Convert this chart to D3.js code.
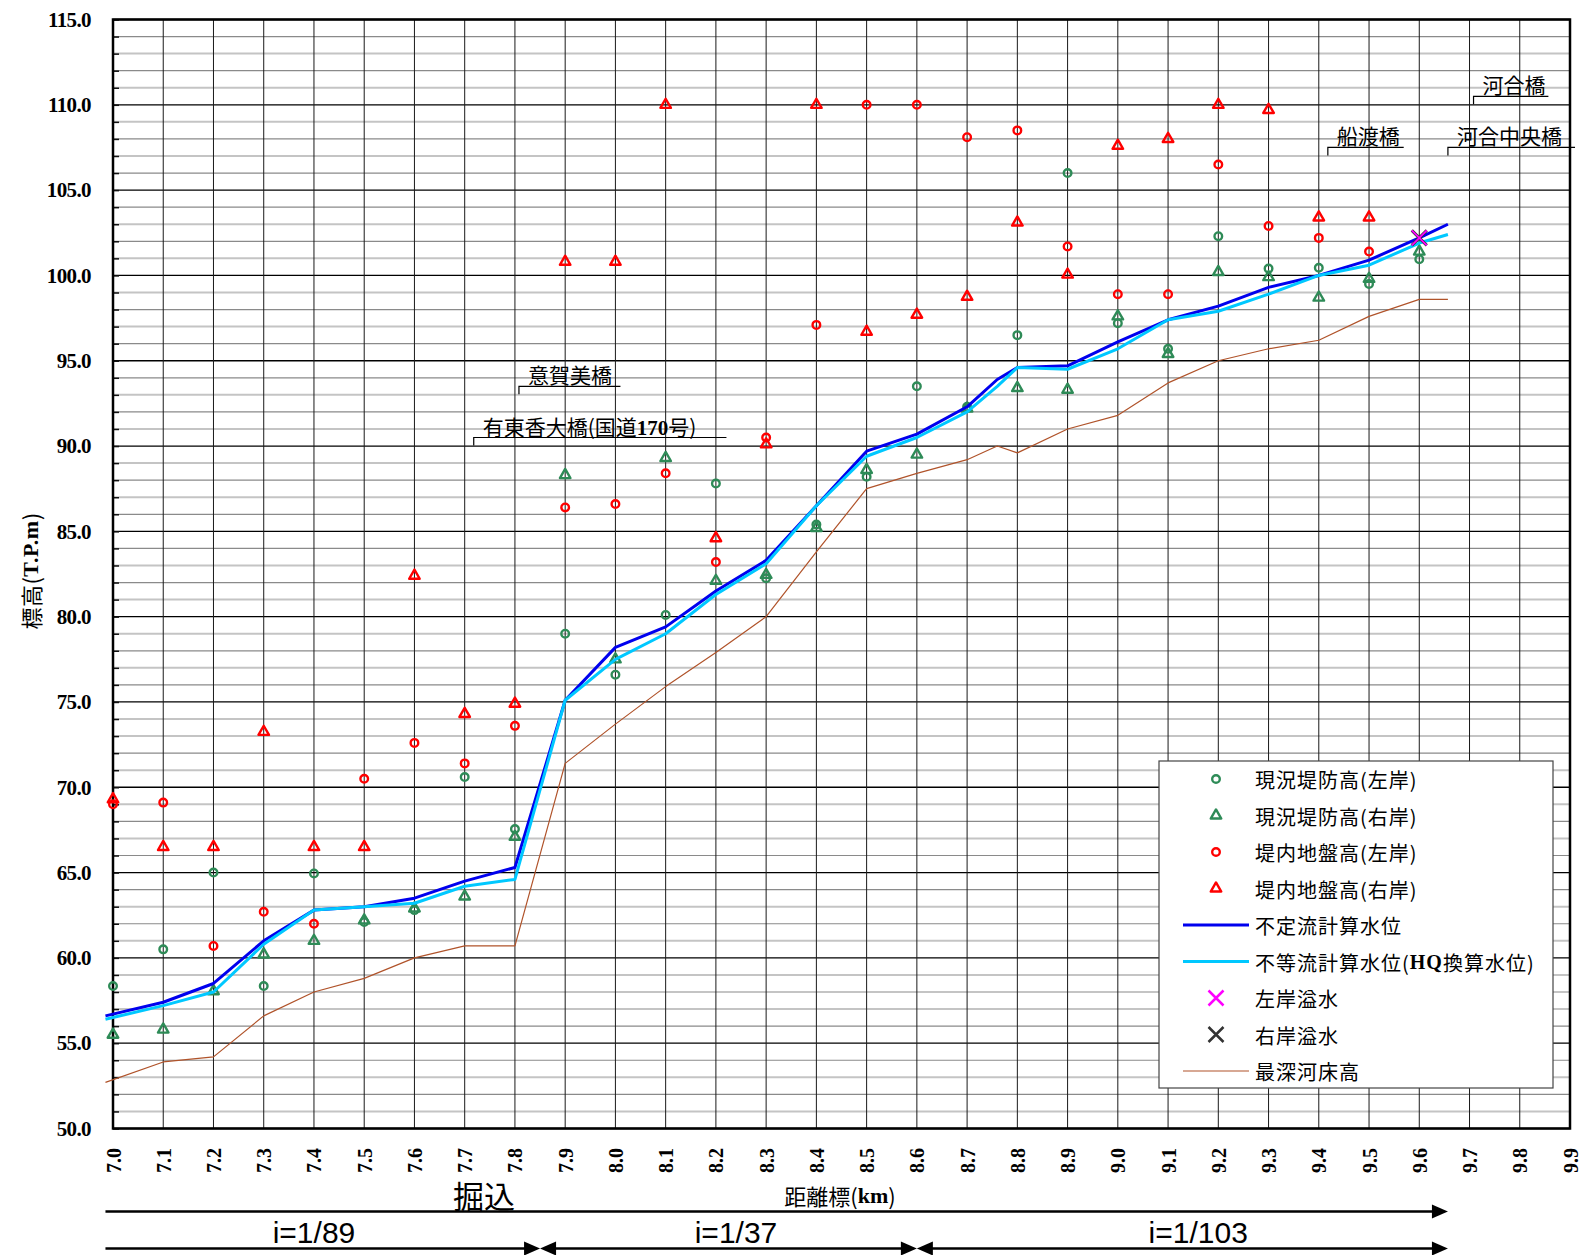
<!DOCTYPE html>
<html lang="ja">
<head>
<meta charset="UTF-8">
<title>水位縦断図</title>
<style>
  body { margin: 0; background: #fff; }
  svg { display: block; }
</style>
</head>
<body>
<div id="chart"></div>
<script src="https://cdn.jsdelivr.net/npm/d3@7/dist/d3.min.js"></script>
<script>
// ---- data ----
var lineKm = [6.985, 7.1, 7.2, 7.3, 7.4, 7.5, 7.6, 7.7, 7.8, 7.9, 8.0, 8.1, 8.2, 8.3, 8.4, 8.5, 8.6, 8.7, 8.76, 8.8, 8.9, 9.0, 9.1, 9.2, 9.3, 9.4, 9.5, 9.6, 9.657];
var unsteadyWL   = [56.6, 57.4, 58.5, 61.0, 62.8, 63.0, 63.5, 64.5, 65.3, 75.1, 78.2, 79.4, 81.5, 83.3, 86.5, 89.7, 90.7, 92.3, 93.9, 94.6, 94.7, 96.1, 97.4, 98.2, 99.3, 100.0, 100.9, 102.2, 103.0];
var nonUniformWL = [56.4, 57.2, 58.0, 60.8, 62.8, 63.0, 63.2, 64.2, 64.6, 75.1, 77.5, 79.0, 81.3, 83.1, 86.5, 89.4, 90.5, 92.0, 93.5, 94.6, 94.5, 95.7, 97.4, 97.9, 98.9, 100.0, 100.6, 101.9, 102.4];
var deepestBed   = [52.7, 53.9, 54.2, 56.6, 58.0, 58.8, 60.0, 60.7, 60.7, 71.4, 73.7, 75.9, 77.9, 80.0, 83.8, 87.5, 88.4, 89.2, 90.0, 89.6, 91.0, 91.8, 93.7, 95.0, 95.7, 96.2, 97.6, 98.6, 98.6];

var markKm = [7.0, 7.1, 7.2, 7.3, 7.4, 7.5, 7.6, 7.7, 7.8, 7.9, 8.0, 8.1, 8.2, 8.3, 8.4, 8.5, 8.6, 8.7, 8.8, 8.9, 9.0, 9.1, 9.2, 9.3, 9.4, 9.5, 9.6];
var leftLevee   = [58.35, 60.5, 65.0, 58.35, 64.95, 62.1, 62.8, 70.6, 67.55, 79.0, 76.6, 80.1, 87.8, 82.25, 85.4, 88.2, 93.5, 92.3, 96.5, 106.0, 97.2, 95.7, 102.3, 100.4, 100.45, 99.5, 100.95];
var rightLevee  = [55.5, 55.8, 58.05, 60.2, 61.0, 62.2, 62.9, 63.6, 67.1, 88.3, 77.5, 89.3, 82.1, 82.45, 85.2, 88.6, 89.5, 92.2, 93.4, 93.3, 97.6, 95.4, 100.2, 99.9, 98.7, 99.8, 101.4];
var leftGround  = [69.0, 69.1, 60.7, 62.7, 62.0, 70.5, 72.6, 71.4, 73.6, 86.4, 86.6, 88.4, 83.2, 90.5, 97.1, 110.0, 110.0, 108.1, 108.5, 101.7, 98.9, 98.9, 106.5, 102.9, 102.2, 101.4, null];
var rightGround = [69.3, 66.5, 66.5, 73.25, 66.5, 66.5, 82.4, 74.3, 74.9, 100.8, 100.8, 110.0, 84.6, 90.1, 110.0, 96.7, 97.7, 98.75, 103.1, 100.05, 107.6, 108.0, 110.0, 109.7, 103.4, 103.4, null];

var overflowKm = [9.6];
var leftOverflow = [102.2];
var rightOverflow = [102.2];

var xTickLabels = ["7.0", "7.1", "7.2", "7.3", "7.4", "7.5", "7.6", "7.7", "7.8", "7.9", "8.0", "8.1", "8.2", "8.3", "8.4", "8.5", "8.6", "8.7", "8.8", "8.9", "9.0", "9.1", "9.2", "9.3", "9.4", "9.5", "9.6", "9.7", "9.8", "9.9"];
var yTickLabels = ["50.0", "55.0", "60.0", "65.0", "70.0", "75.0", "80.0", "85.0", "90.0", "95.0", "100.0", "105.0", "110.0", "115.0"];

var bridgeName  = ["意賀美橋", "有東香大橋(国道170号)", "船渡橋", "河合橋", "河合中央橋"];
var bridgeKm    = [7.808, 7.718, 9.418, 9.708, 9.657];
var bridgeEndKm = [8.01, 8.221, 9.569, 9.857, 9.91];
var bridgeLevel = [93.5, 90.5, 107.5, 110.5, 107.5];

var gradFrom  = [6.985, 7.85, 8.6];
var gradTo    = [7.85, 8.6, 9.657];
var gradLabel = ["i=1/89", "i=1/37", "i=1/103"];
var gradLabelKm = [7.4, 8.24, 9.16];

var legendNames = ["現況堤防高(左岸)", "現況堤防高(右岸)", "堤内地盤高(左岸)", "堤内地盤高(右岸)",
                   "不定流計算水位", "不等流計算水位(HQ換算水位)", "左岸溢水", "右岸溢水", "最深河床高"];

// ---- layout ----
var W = 1581, H = 1255;
var pl = 113, pr = 1570, pt = 19.5, pb = 1128.5;
var SERIF = "'Liberation Serif', 'Times New Roman', serif";
var CJK = "'Noto Sans CJK JP', 'Noto Sans CJK SC', sans-serif";

var GREEN = "#2e8b57", RED = "#ff0000", BLUE = "#0000ee", CYAN = "#00c8ff", BROWN = "#b0532a";

var svg = d3.select("#chart").append("svg").attr("width", W).attr("height", H);

var x = d3.scaleLinear().domain([7.0, 9.9]).range([pl, pr]);
var y = d3.scaleLinear().domain([50, 115]).range([pb, pt]);

function mixedText(sel, str) {
  str.split(/([A-Za-z0-9.]+)/).forEach(function(part) {
    if (!part) return;
    var latin = /^[A-Za-z0-9.]+$/.test(part);
    sel.append("tspan").text(part)
      .attr("font-family", latin ? SERIF : CJK)
      .attr("font-weight", latin ? "bold" : "normal");
  });
}

// grid
var grid = svg.append("g");
y.ticks(65).forEach(function(v) {
  var major = v % 5 === 0;
  grid.append("line")
    .attr("x1", pl).attr("x2", pr)
    .attr("y1", y(v)).attr("y2", y(v))
    .attr("stroke", major ? "#000" : (v % 2 === 1 ? "#c4c4c4" : "#8a8a8a"))
    .attr("stroke-width", major ? 1.3 : (v % 2 === 1 ? 2 : 1.2));
});
xTickLabels.forEach(function(t) {
  grid.append("line")
    .attr("x1", x(+t)).attr("x2", x(+t))
    .attr("y1", pt).attr("y2", pb)
    .attr("stroke", "#1a1a1a").attr("stroke-width", 1);
});

// inner ticks on the left axis
svg.append("g")
  .attr("transform", "translate(" + pl + ",0)")
  .call(d3.axisLeft(y).ticks(65).tickSize(-6).tickFormat(""))
  .call(function(g) { g.select(".domain").remove(); })
  .selectAll("line").attr("stroke", "#111").attr("stroke-width", 1.5);

// y axis labels
svg.append("g")
  .attr("transform", "translate(" + pl + ",0)")
  .call(d3.axisLeft(y).tickValues(yTickLabels.map(Number)).tickFormat(function(d, i) { return yTickLabels[i]; })
    .tickSize(0).tickPadding(22))
  .call(function(g) { g.select(".domain").remove(); })
  .selectAll("text")
  .attr("font-family", SERIF).attr("font-weight", "bold").attr("font-size", 21)
  .attr("letter-spacing", -0.6).attr("fill", "#000");

// x axis labels, rotated
svg.append("g")
  .attr("transform", "translate(0," + pb + ")")
  .call(d3.axisBottom(x).tickValues(xTickLabels.map(Number)).tickFormat(function(d, i) { return xTickLabels[i]; })
    .tickSize(0))
  .call(function(g) { g.select(".domain").remove(); })
  .selectAll("text")
  .attr("x", 0).attr("y", 0).attr("dy", "0.35em")
  .attr("transform", "translate(0,32) rotate(-90)")
  .style("text-anchor", "middle")
  .attr("font-family", SERIF).attr("font-weight", "bold").attr("font-size", 20).attr("fill", "#000");

// frame
svg.append("rect")
  .attr("x", pl).attr("y", pt).attr("width", pr - pl).attr("height", pb - pt)
  .attr("fill", "none").attr("stroke", "#000").attr("stroke-width", 2.5);

// axis titles
var yt = svg.append("text")
  .attr("transform", "translate(30,571) rotate(-90)")
  .attr("text-anchor", "middle").attr("dominant-baseline", "central")
  .attr("font-size", 22).attr("letter-spacing", 0.5);
mixedText(yt, "標高(T.P.m)");

var xt = svg.append("text")
  .attr("x", 840).attr("y", 1195)
  .attr("text-anchor", "middle").attr("dominant-baseline", "central")
  .attr("font-size", 22);
mixedText(xt, "距離標(km)");

svg.append("text")
  .attr("x", 484).attr("y", 1194)
  .attr("text-anchor", "middle").attr("dominant-baseline", "central")
  .attr("font-family", CJK).attr("font-size", 31)
  .text("掘込");

// marker helpers
function circleMark(g, cx, cy, color) {
  g.append("circle").attr("cx", cx).attr("cy", cy).attr("r", 3.8)
    .attr("fill", "none").attr("stroke", color).attr("stroke-width", 2.4);
}
var triPath = d3.symbol(d3.symbolTriangle).size(48)();
function triMark(g, cx, cy, color) {
  g.append("path").attr("d", triPath)
    .attr("transform", "translate(" + cx + "," + cy + ")")
    .attr("fill", "none").attr("stroke", color).attr("stroke-width", 2.4)
    .attr("stroke-linejoin", "round");
}
function xMark(g, cx, cy, color, w) {
  g.append("path").attr("d", "M-7.5,-7.5L7.5,7.5M-7.5,7.5L7.5,-7.5")
    .attr("transform", "translate(" + cx + "," + cy + ")")
    .attr("fill", "none").attr("stroke", color).attr("stroke-width", w || 2.5);
}

// markers
var marks = svg.append("g");
markKm.forEach(function(k, i) {
  if (leftLevee[i] != null) circleMark(marks, x(k), y(leftLevee[i]), GREEN);
  if (rightLevee[i] != null) triMark(marks, x(k), y(rightLevee[i]), GREEN);
  if (leftGround[i] != null) circleMark(marks, x(k), y(leftGround[i]), RED);
  if (rightGround[i] != null) triMark(marks, x(k), y(rightGround[i]), RED);
});

// lines
function drawLine(vals, color, width) {
  var line = d3.line()
    .defined(function(d) { return d != null; })
    .x(function(d, i) { return x(lineKm[i]); })
    .y(function(d) { return y(d); });
  svg.append("path").datum(vals)
    .attr("d", line)
    .attr("fill", "none").attr("stroke", color).attr("stroke-width", width)
    .attr("stroke-linejoin", "round");
}
drawLine(unsteadyWL, BLUE, 3);
drawLine(nonUniformWL, CYAN, 3);
drawLine(deepestBed, BROWN, 1.2);

// overflow marks
overflowKm.forEach(function(k, i) {
  xMark(svg, x(k), y(rightOverflow[i]), "#333333", 3);
  xMark(svg, x(k), y(leftOverflow[i]), "#ff00ff", 1.8);
});

// bridge labels
bridgeName.forEach(function(name, i) {
  var bx = x(bridgeKm[i]), by = y(bridgeLevel[i]);
  var t = svg.append("text").attr("x", bx + 9).attr("y", by - 3).attr("font-size", 21).attr("fill", "#000");
  mixedText(t, name);
  svg.append("path")
    .attr("d", "M" + bx + "," + (by + 8) + "V" + by + "H" + x(bridgeEndKm[i]))
    .attr("fill", "none").attr("stroke", "#000").attr("stroke-width", 1.2);
});

// gradient arrows
function arrowHead(tipX, yy, dir) {
  svg.append("path")
    .attr("d", "M" + tipX + "," + yy + "L" + (tipX - dir * 16) + "," + (yy - 7) + "L" + (tipX - dir * 16) + "," + (yy + 7) + "Z")
    .attr("fill", "#000");
}
var ya = 1211.5, yb = 1248.5;
svg.append("line").attr("x1", x(gradFrom[0])).attr("x2", x(gradTo[gradTo.length - 1]) - 10)
  .attr("y1", ya).attr("y2", ya).attr("stroke", "#000").attr("stroke-width", 2.5);
arrowHead(x(gradTo[gradTo.length - 1]), ya, 1);

gradFrom.forEach(function(f, i) {
  var x1 = x(f), x2 = x(gradTo[i]);
  svg.append("line").attr("x1", i === 0 ? x1 : x1 + 10).attr("x2", x2 - 10)
    .attr("y1", yb).attr("y2", yb).attr("stroke", "#000").attr("stroke-width", 2.5);
  arrowHead(x2, yb, 1);
  if (i > 0) arrowHead(x1, yb, -1);
  svg.append("text")
    .attr("x", x(gradLabelKm[i])).attr("y", yb - 6)
    .attr("text-anchor", "middle")
    .attr("font-family", "'Liberation Sans', Arial, sans-serif").attr("font-size", 30)
    .text(gradLabel[i]);
});

// legend
var lg = svg.append("g");
lg.append("rect").attr("x", 1159).attr("y", 761).attr("width", 394).attr("height", 327)
  .attr("fill", "#fff").attr("stroke", "#444").attr("stroke-width", 1.2);
legendNames.forEach(function(name, i) {
  var ly = 779 + i * 36.5;
  if (i === 0) circleMark(lg, 1216, ly, GREEN);
  if (i === 1) triMark(lg, 1216, ly, GREEN);
  if (i === 2) circleMark(lg, 1216, ly, RED);
  if (i === 3) triMark(lg, 1216, ly, RED);
  if (i === 4 || i === 5 || i === 8) {
    lg.append("line").attr("x1", 1183).attr("x2", 1249).attr("y1", ly).attr("y2", ly)
      .attr("stroke", i === 4 ? BLUE : (i === 5 ? CYAN : BROWN))
      .attr("stroke-width", i === 8 ? 1.2 : 3);
  }
  if (i === 6) xMark(lg, 1216, ly, "#ff00ff");
  if (i === 7) xMark(lg, 1216, ly, "#333333");
  var t = lg.append("text").attr("x", 1255).attr("y", ly)
    .attr("dominant-baseline", "central").attr("font-size", 20).attr("letter-spacing", 1).attr("fill", "#000");
  mixedText(t, name);
});
</script>
</body>
</html>
